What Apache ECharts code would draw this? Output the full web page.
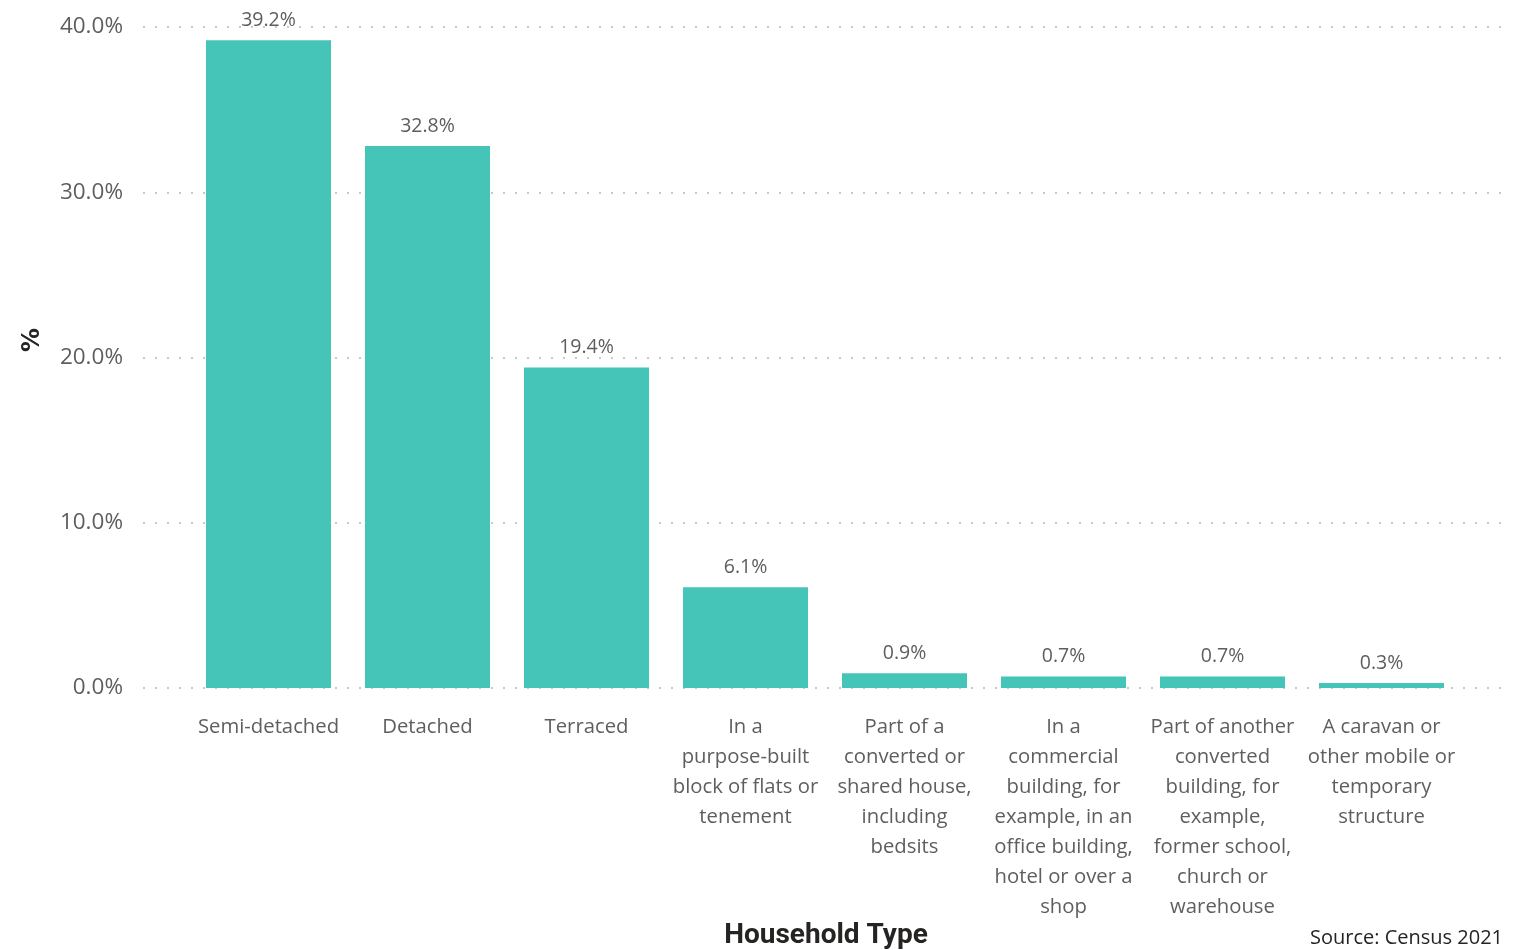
<!DOCTYPE html>
<html>
<head>
<meta charset="utf-8">
<script src="https://cdn.jsdelivr.net/npm/echarts@6/dist/echarts.min.js"></script>
<style>
html,body{margin:0;padding:0;background:#fff;}
#chart{width:1515px;height:950px;}
</style>
</head>
<body>
<div id="chart"></div>
<script>
const categories = [
  'Semi-detached',
  'Detached',
  'Terraced',
  'In a purpose-built block of flats or tenement',
  'Part of a converted or shared house, including bedsits',
  'In a commercial building, for example, in an office building, hotel or over a shop',
  'Part of another converted building, for example, former school, church or warehouse',
  'A caravan or other mobile or temporary structure'
];
const tickLabels = [
  'Semi-detached',
  'Detached',
  'Terraced',
  'In a\npurpose-built\nblock of flats or\ntenement',
  'Part of a\nconverted or\nshared house,\nincluding\nbedsits',
  'In a\ncommercial\nbuilding, for\nexample, in an\noffice building,\nhotel or over a\nshop',
  'Part of another\nconverted\nbuilding, for\nexample,\nformer school,\nchurch or\nwarehouse',
  'A caravan or\nother mobile or\ntemporary\nstructure'
];
const values = [39.2, 32.8, 19.4, 6.1, 0.9, 0.7, 0.7, 0.3];
const yTicks = [0, 10, 20, 30, 40];

const chart = echarts.init(document.getElementById('chart'));
const FONT = '"Open Sans", "Noto Sans", sans-serif';
chart.setOption({
  animation: false,
  grid: [
    {left: 143, right: 13, top: 27, bottom: 262},
    {left: 189, right: 54, top: 27, bottom: 262}
  ],
  xAxis: [
    {gridIndex: 0, type: 'value', min: 0, max: 1, show: false},
    {
      gridIndex: 1, type: 'category', data: categories,
      axisLine: {show: false}, axisTick: {show: false},
      axisLabel: {
        interval: 0, margin: 24,
        formatter: (v, i) => tickLabels[i],
        fontFamily: FONT, fontSize: 20.3, lineHeight: 30, color: '#605E5C'
      }
    }
  ],
  yAxis: [
    {
      gridIndex: 0, type: 'value', min: yTicks[0], max: yTicks[yTicks.length - 1], interval: 10,
      axisLine: {show: false}, axisTick: {show: false},
      splitLine: {lineStyle: {color: '#C8C8C8', width: 2, type: [2, 10]}},
      axisLabel: {
        margin: 20, fontFamily: FONT, fontSize: 22.5, color: '#605E5C',
        formatter: v => v.toFixed(1) + '%'
      }
    },
    {gridIndex: 1, type: 'value', min: 0, max: 40, show: false}
  ],
  series: [{
    type: 'bar', xAxisIndex: 1, yAxisIndex: 1,
    data: values, barWidth: 125,
    itemStyle: {color: '#45C4B8'},
    label: {
      show: true, position: 'top', distance: 10,
      fontFamily: FONT, fontSize: 19.5, color: '#605E5C',
      formatter: p => p.value.toFixed(1) + '%'
    }
  }],
  graphic: [
    {
      type: 'text', x: 826, y: 936,
      style: {text: 'Household Type', align: 'center', verticalAlign: 'middle',
        fontFamily: 'Roboto, sans-serif', fontWeight: 'bold', fontSize: 28, fill: '#252423'}
    },
    {
      type: 'text', x: 33, y: 340, rotation: Math.PI / 2,
      style: {text: '%', align: 'center', verticalAlign: 'middle',
        fontFamily: '"DejaVu Sans", sans-serif', fontWeight: 'bold', fontSize: 24, fill: '#252423'}
    },
    {
      type: 'text', x: 1503, y: 938,
      style: {text: 'Source: Census 2021', align: 'right', verticalAlign: 'middle',
        fontFamily: FONT, fontSize: 20, fill: '#252423'}
    }
  ]
});
</script>
</body>
</html>
